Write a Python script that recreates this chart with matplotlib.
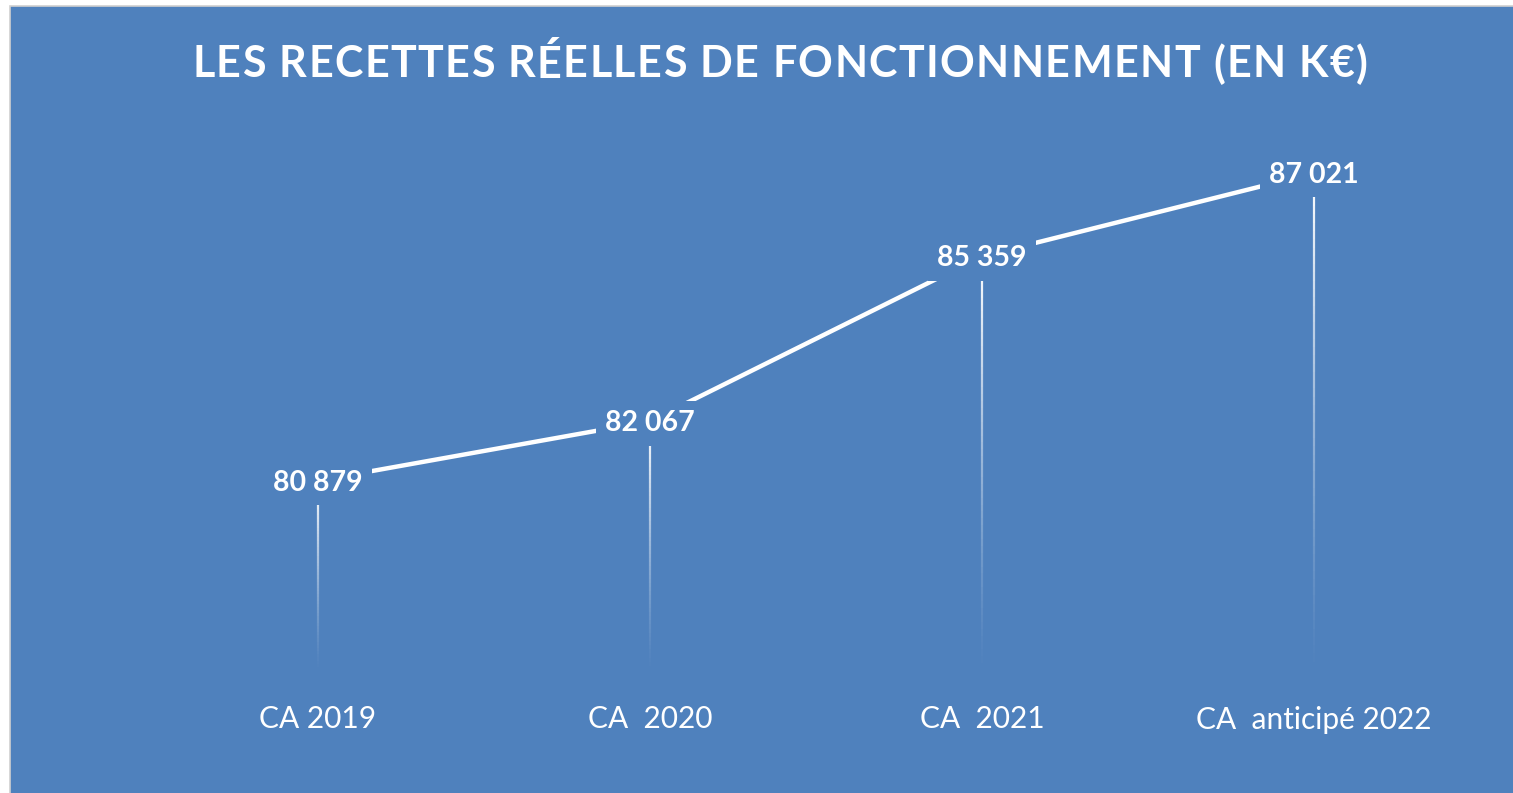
import matplotlib.pyplot as plt
from matplotlib.patches import Rectangle
import numpy as np

categories = ['CA 2019', 'CA  2020', 'CA  2021', 'CA  anticipé 2022']
values = [80879, 82067, 85359, 87021]
value_labels = ['80 879', '82 067', '85 359', '87 021']
title = 'LES RECETTES RÉELLES DE FONCTIONNEMENT (EN K€)'

bg = '#4F81BD'
plt.rcParams['font.family'] = ['Lato', 'DejaVu Sans']

fig = plt.figure(figsize=(15.13, 7.93), dpi=100)
fig.patch.set_facecolor('white')

# blue chart area with thin grey border
fig.patches.append(Rectangle((10 / 1513, -0.01), 1.0, 1 - 6 / 793 + 0.01,
                             transform=fig.transFigure, facecolor=bg,
                             edgecolor='#D0D0D0', linewidth=1.2, zorder=-5))

ax = fig.add_axes([152 / 1513, 1 - 670 / 793, 1328 / 1513, 550 / 793])
ax.set_facecolor('none')
ax.set_xlim(-0.5, len(categories) - 0.5)
ymin = 77100
ax.set_ylim(ymin, 88080)
for s in ax.spines.values():
    s.set_visible(False)
ax.set_xticks([])
ax.set_yticks([])

x = np.arange(len(categories))

# drop lines fading out towards the bottom
n = 60
for xi, v in zip(x, values):
    ys = np.linspace(ymin, v, n + 1)
    for k in range(n):
        a = (k + 1) / n
        ax.plot([xi, xi], [ys[k], ys[k + 1]], color='white', alpha=a ** 1.3,
                linewidth=1.6, solid_capstyle='butt', zorder=2)

ax.plot(x, values, color='white', linewidth=3.2, zorder=3, solid_capstyle='butt')

for xi, v, lab in zip(x, values, value_labels):
    ax.text(xi, v - 40, lab, ha='center', va='center', color='white', fontsize=20.5,
            fontweight='bold', zorder=4,
            bbox=dict(facecolor=bg, edgecolor='none', boxstyle='square,pad=0.33'))

for xi, lab in zip(x, categories):
    ax.text(xi, -0.09, lab, transform=ax.get_xaxis_transform(), ha='center',
            va='center', color='white', fontsize=21.5)

# title with letter spacing: place characters one by one
renderer = fig.canvas.get_renderer()
tkw = dict(color='white', fontsize=31, fontweight='bold', va='center', ha='left')


def text_w(s):
    t = fig.text(0, 0, s + '|', **tkw)
    w = t.get_window_extent(renderer).width
    t.remove()
    return w


bar_w = text_w('')
offsets = [text_w(title[:i]) - bar_w for i in range(len(title) + 1)]
target_w = 1176
spacing = (target_w - offsets[-1]) / (len(title) - 1)
x0 = 192
for i, ch in enumerate(title):
    if ch == ' ':
        continue
    fig.text((x0 + offsets[i] + i * spacing) / 1513, 1 - 64 / 793, ch, **tkw)

fig.savefig('out.png', dpi=100, facecolor=fig.get_facecolor())
